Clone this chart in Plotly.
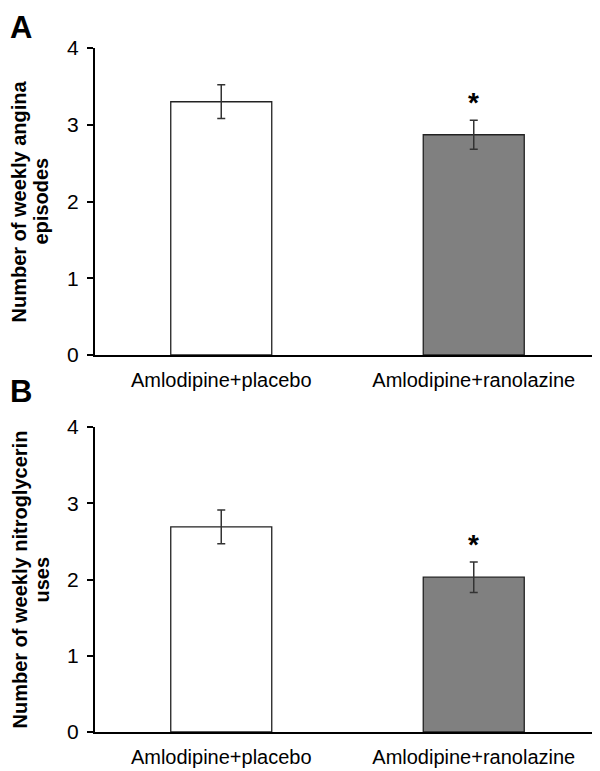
import plotly.graph_objects as go

categories = ["Amlodipine+placebo", "Amlodipine+ranolazine"]
angina_values = [3.30, 2.87]
angina_errors = [0.22, 0.19]
nitro_values = [2.69, 2.03]
nitro_errors = [0.22, 0.20]
significance = ["", "*"]
y_ticks = [0, 1, 2, 3, 4]
bar_colors = ["#ffffff", "#808080"]
panel_labels = ["A", "B"]
y_title_lines = [["Number of weekly angina", "episodes"],
                 ["Number of weekly nitroglycerin", "uses"]]

# page body has an 8px margin; figure is sized so it ends at the window edge
OFF = 8
W, H = 600 - OFF, 771 - OFF
FONT = "Liberation Sans, Arial, sans-serif"


def fx(px):
    return (px - OFF) / W


def fy(px):
    return (H - (px - OFF)) / H


fig = go.Figure()

panels = [
    (angina_values, angina_errors, "x", "y"),
    (nitro_values, nitro_errors, "x2", "y2"),
]
for vals, errs, xa, ya in panels:
    fig.add_trace(go.Bar(
        x=list(range(len(categories))), y=vals,
        width=0.4,
        marker=dict(color=bar_colors, line=dict(color="#222222", width=1.3)),
        error_y=dict(type="data", array=errs, visible=True, color="#333333",
                     thickness=1.5, width=4),
        xaxis=xa, yaxis=ya, showlegend=False,
    ))
    for i, s in enumerate(significance):
        if s:
            fig.add_annotation(x=i, y=vals[i] + errs[i], xref=xa, yref=ya,
                               text="<b>" + s + "</b>", showarrow=False,
                               yanchor="bottom", yshift=0,
                               font=dict(family=FONT, size=28, color="#000000"))

xdom = [fx(95), 1.0]
ydomA = [fy(355), fy(48)]
ydomB = [fy(732), fy(427)]

axis_common = dict(showline=True, linecolor="#000000", linewidth=2, zeroline=False,
                   showgrid=False)
xcommon = dict(axis_common, range=[-0.5, 1.5], tickmode="array",
               tickvals=list(range(len(categories))), ticktext=categories,
               ticks="", tickfont=dict(family=FONT, size=20, color="#000000"),
               ticklabelstandoff=6)
ycommon = dict(axis_common, range=[0, 4], tickmode="array", tickvals=y_ticks,
               ticks="outside", ticklen=6, tickwidth=1.5, tickcolor="#000000",
               tickfont=dict(family=FONT, size=21, color="#000000"),
               ticklabelstandoff=4)

fig.update_layout(
    width=W, height=H,
    margin=dict(l=0, r=0, t=0, b=0, autoexpand=False),
    paper_bgcolor="#ffffff", plot_bgcolor="#ffffff",
    xaxis=dict(xcommon, domain=xdom, anchor="y"),
    yaxis=dict(ycommon, domain=ydomA, anchor="x"),
    xaxis2=dict(xcommon, domain=xdom, anchor="y2"),
    yaxis2=dict(ycommon, domain=ydomB, anchor="x2"),
)

# y-axis titles (bold, two lines, rotated) - one annotation per line
for lines, dom in zip(y_title_lines, [ydomA, ydomB]):
    for line, xc in zip(lines, [19, 41]):
        fig.add_annotation(x=fx(xc), y=(dom[0] + dom[1]) / 2, xref="paper", yref="paper",
                           text="<b>" + line + "</b>", textangle=-90, showarrow=False,
                           xanchor="center", yanchor="middle",
                           font=dict(family=FONT, size=20, color="#000000"))

# panel letters
for lab, ytop in zip(panel_labels, [OFF, 372]):
    fig.add_annotation(x=0, y=fy(ytop), xref="paper", yref="paper",
                       text="<b>" + lab + "</b>", showarrow=False,
                       xanchor="left", yanchor="top",
                       font=dict(family=FONT, size=31, color="#000000"))

fig.write_html("out.html")
